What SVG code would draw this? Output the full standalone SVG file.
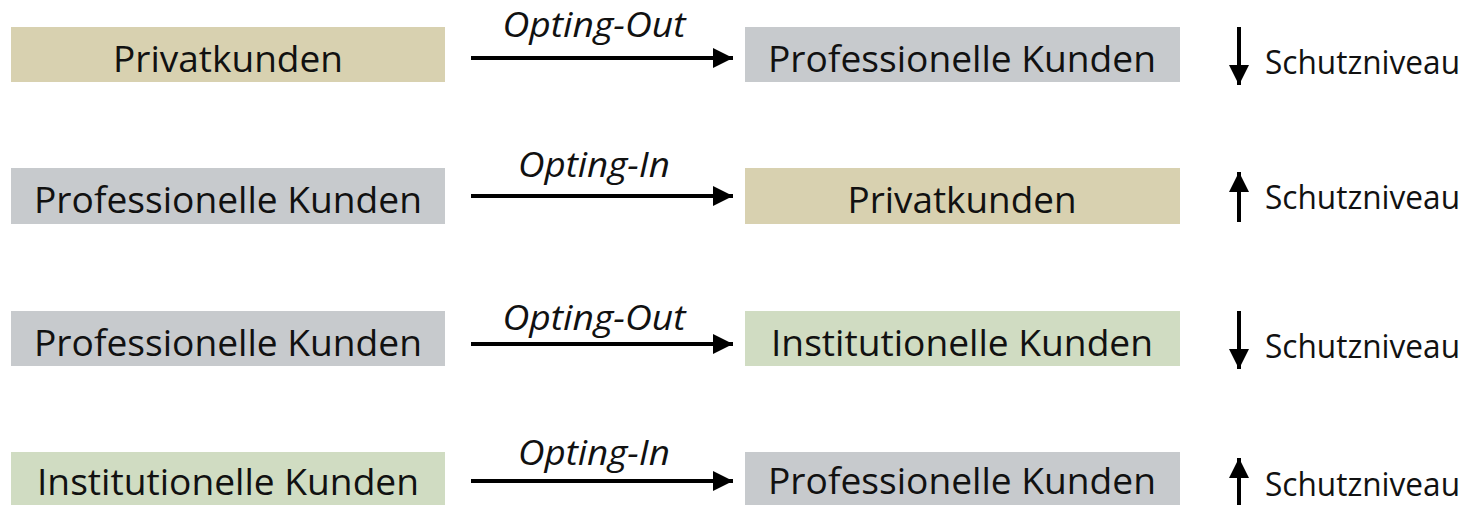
<svg xmlns="http://www.w3.org/2000/svg" width="1472" height="505" viewBox="0 0 1472 505">
<defs>
<style>
.box text{font-family:"Open Sans",sans-serif;font-size:37px;fill:#111;text-anchor:middle}
.tan{fill:#d8d1b0}
.gray{fill:#c7cacd}
.green{fill:#d0dcc2}
.lbl{font-family:"Open Sans",sans-serif;font-size:34px;font-style:italic;fill:#111;text-anchor:middle}
.sn{font-family:"Open Sans",sans-serif;font-size:32px;fill:#111}
.ln{stroke:#000;stroke-width:4;fill:none}
</style>
<marker id="ah" markerWidth="5" markerHeight="5" refX="5" refY="2.5" orient="auto" markerUnits="strokeWidth">
<path d="M0,0 L5,2.5 L0,5 Z" fill="#000"/>
</marker>
</defs>
<rect width="1472" height="505" fill="#fff"/>

<g id="r1-left" class="box"><rect class="tan" x="11" y="27" width="434" height="55"/><text x="228" y="72" textLength="230" lengthAdjust="spacingAndGlyphs">Privatkunden</text></g>
<g id="r1-right" class="box"><rect class="gray" x="745" y="27" width="435" height="55"/><text x="962" y="72" textLength="388" lengthAdjust="spacingAndGlyphs">Professionelle Kunden</text></g>
<g id="r2-left" class="box"><rect class="gray" x="11" y="168" width="434" height="56"/><text x="228" y="213" textLength="388" lengthAdjust="spacingAndGlyphs">Professionelle Kunden</text></g>
<g id="r2-right" class="box"><rect class="tan" x="745" y="168" width="435" height="56"/><text x="962" y="213" textLength="229" lengthAdjust="spacingAndGlyphs">Privatkunden</text></g>
<g id="r3-left" class="box"><rect class="gray" x="11" y="311" width="434" height="55"/><text x="228" y="356" textLength="388" lengthAdjust="spacingAndGlyphs">Professionelle Kunden</text></g>
<g id="r3-right" class="box"><rect class="green" x="745" y="311" width="435" height="55"/><text x="962" y="356" textLength="382" lengthAdjust="spacingAndGlyphs">Institutionelle Kunden</text></g>
<g id="r4-left" class="box"><rect class="green" x="11" y="452" width="434" height="56"/><text x="228" y="495" textLength="382" lengthAdjust="spacingAndGlyphs">Institutionelle Kunden</text></g>
<g id="r4-right" class="box"><rect class="gray" x="745" y="452" width="435" height="56"/><text x="962" y="494" textLength="388" lengthAdjust="spacingAndGlyphs">Professionelle Kunden</text></g>

<g id="connectors">
<line class="ln" x1="471" y1="58" x2="733" y2="58" marker-end="url(#ah)"/>
<line class="ln" x1="471" y1="196" x2="733" y2="196" marker-end="url(#ah)"/>
<line class="ln" x1="471" y1="344" x2="733" y2="344" marker-end="url(#ah)"/>
<line class="ln" x1="471" y1="481" x2="733" y2="481" marker-end="url(#ah)"/>
<text class="lbl" x="594" y="37" textLength="183" lengthAdjust="spacingAndGlyphs">Opting-Out</text>
<text class="lbl" x="594" y="177" textLength="152" lengthAdjust="spacingAndGlyphs">Opting-In</text>
<text class="lbl" x="594" y="330" textLength="183" lengthAdjust="spacingAndGlyphs">Opting-Out</text>
<text class="lbl" x="594" y="465" textLength="152" lengthAdjust="spacingAndGlyphs">Opting-In</text>
</g>

<g id="level1"><line class="ln" x1="1239" y1="27" x2="1239" y2="85" marker-end="url(#ah)"/><text class="sn" x="1265" y="74" textLength="195" lengthAdjust="spacingAndGlyphs">Schutzniveau</text></g>
<g id="level2"><line class="ln" x1="1239" y1="222" x2="1239" y2="172" marker-end="url(#ah)"/><text class="sn" x="1265" y="209" textLength="195" lengthAdjust="spacingAndGlyphs">Schutzniveau</text></g>
<g id="level3"><line class="ln" x1="1239" y1="311" x2="1239" y2="369" marker-end="url(#ah)"/><text class="sn" x="1265" y="358" textLength="195" lengthAdjust="spacingAndGlyphs">Schutzniveau</text></g>
<g id="level4"><line class="ln" x1="1239" y1="506" x2="1239" y2="458" marker-end="url(#ah)"/><text class="sn" x="1265" y="496" textLength="195" lengthAdjust="spacingAndGlyphs">Schutzniveau</text></g>
</svg>
